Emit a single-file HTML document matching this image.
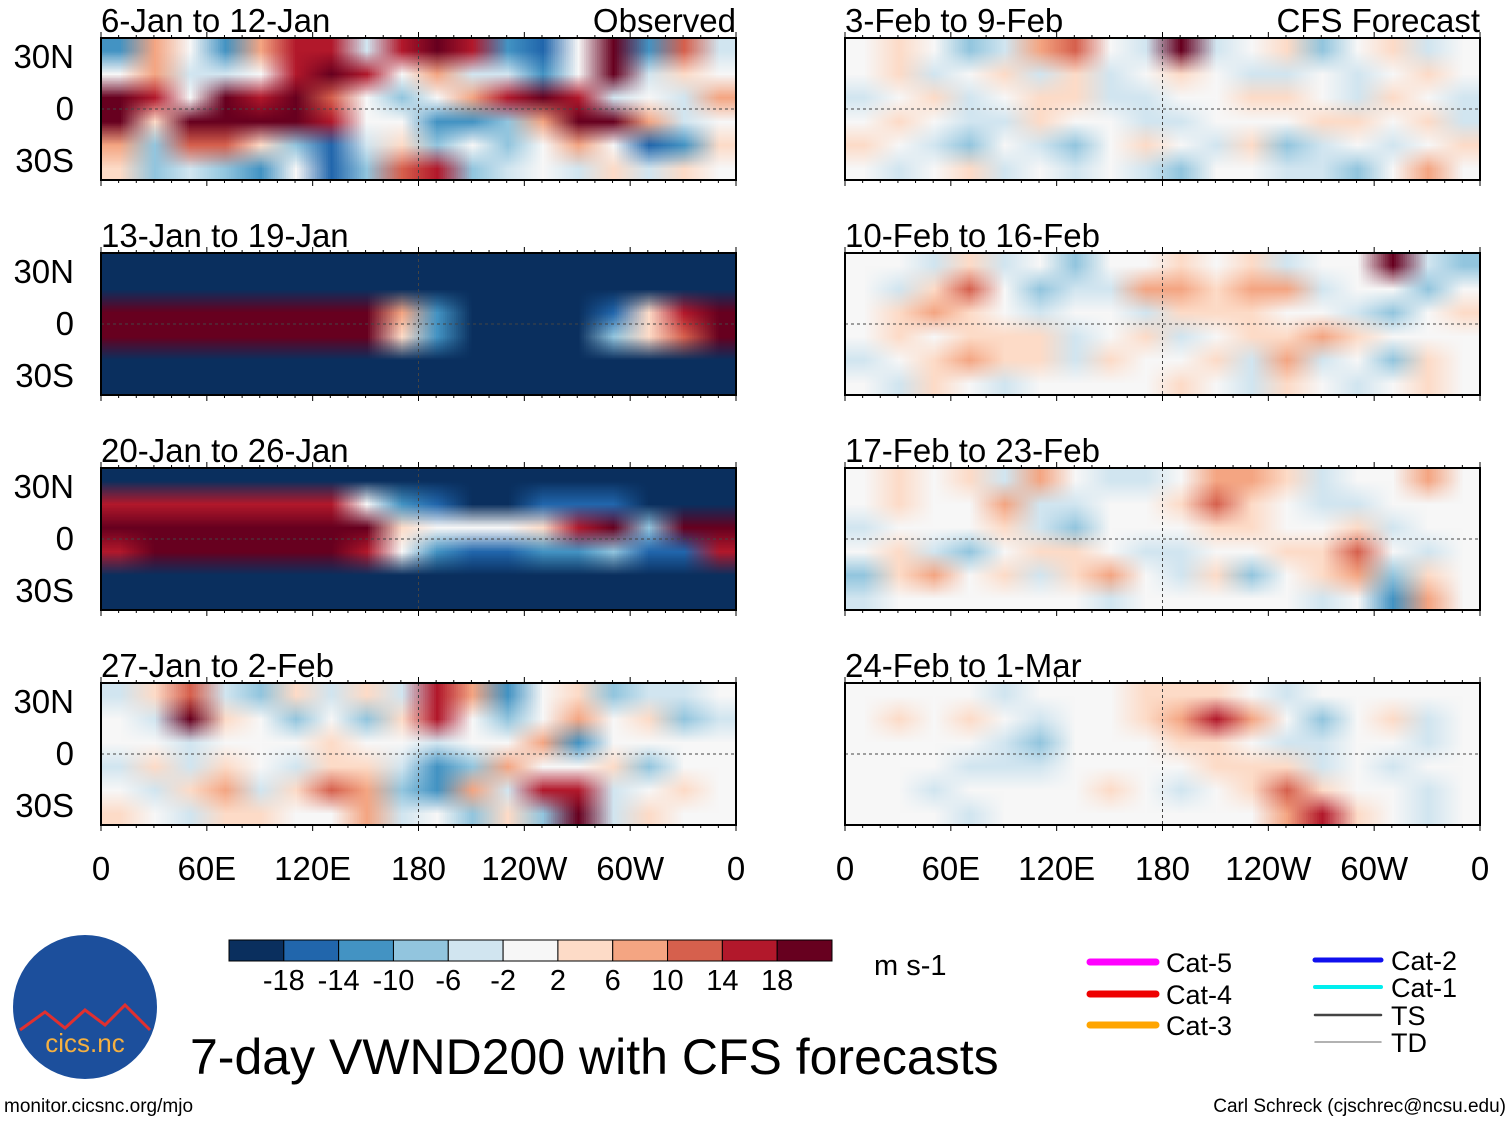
<!DOCTYPE html>
<html><head><meta charset="utf-8"><style>
body{margin:0;background:#fff;width:1510px;height:1121px;overflow:hidden;font-family:"Liberation Sans",sans-serif;position:relative}
svg text{font-family:"Liberation Sans",sans-serif}
canvas{position:absolute;image-rendering:auto}
#s{position:absolute;left:0;top:0}
</style></head><body>
<div id="maps"></div>
<svg id="s" width="1510" height="1121" viewBox="0 0 1510 1121">
<defs></defs>
</svg>
<script>
const colors=["#0a2f5e","#2166ac","#4393c3","#92c5de","#d1e5f0","#f7f7f7","#fddbc7","#f4a582","#d6604d","#b2182b","#67001f"];
const levelLabels=["-18","-14","-10","-6","-2","2","6","10","14","18"];
const xTickLabels=["0","60E","120E","180","120W","60W","0"];
const yTickLabels=["30N","0","30S"];
const panelTitles=["6-Jan to 12-Jan","13-Jan to 19-Jan","20-Jan to 26-Jan","27-Jan to 2-Feb","3-Feb to 9-Feb","10-Feb to 16-Feb","17-Feb to 23-Feb","24-Feb to 1-Mar"];
const field0=["275279949A9215A284","574459A9574425A465","A95A9A853579A94547","A6AAAA9552237AA745","738863146353575126","634325138934546465"];
const field1=["000000000000000000","000000000000000000","AAAAAAAA720000169A","AAAAAAAA620000368A","000000000000000000","000000000000000000"];
const field2=["000000000000000000","999999952100111000","AAAAAAAA655569A3AA","9AAAAAA95211223119","000000000000000000","000000000000000000"];
const field3=["468436464972563445","54A653536953575634","554555655455725555","464654664237556355","546746873274994565","6546655745363A4655"];
const field4=["565347854A45635645","564564645654454565","456456644556654654","565446554455566564","654354356546345456","545645454355443575"];
const field5=["554645355656455A43","546853447767745535","567654554666554356","565666456456676555","456766465564745365","546545555654654565"];
const field6=["565647544577645575","565574455686544555","455564355566556455","564356654455668545","367564675463567365","455555545555545275"];
const field7=["555545556665455555","565654556797535645","555543555665445545","555444555566645455","554555565456865545","555455555555796545"];
const fields=[field0,field1,field2,field3,field4,field5,field6,field7];
const S=document.getElementById('s'),NS="http://www.w3.org/2000/svg",M=document.getElementById('maps');
function el(t,a,p){const e=document.createElementNS(NS,t);for(const k in a)e.setAttribute(k,a[k]);(p||S).appendChild(e);return e;}
const PW=635,PH=142,lefts=[101,845],tops=[38,253,468,683];
const xScale=(lon,x0)=>x0+lon/360*PW;
const yScale=(lat,y0)=>y0+(41-lat)/82*PH;
function hex(c){return [1,3,5].map(i=>parseInt(c.substr(i,2),16));}
fields.forEach((f,i)=>{
 const x0=lefts[Math.floor(i/4)],y0=tops[i%4];
 const nr=f.length,nc=f[0].length;
 const cv=document.createElement('canvas');
 cv.width=nc;cv.height=nr;
 
 
 cv.style.left=xScale(0,x0)+'px';cv.style.top=yScale(41,y0)+'px';
 cv.style.width=(xScale(360,x0)-xScale(0,x0))+'px';cv.style.height=(yScale(-41,y0)-yScale(41,y0))+'px';
 const ctx=cv.getContext('2d'),img=ctx.createImageData(nc,nr);
 for(let r=0;r<nr;r++)for(let c=0;c<nc;c++){
  const rgb=hex(colors[parseInt(f[r][c],16)]),p=(r*nc+c)*4;
  img.data[p]=rgb[0];img.data[p+1]=rgb[1];img.data[p+2]=rgb[2];img.data[p+3]=255;
 }
 ctx.putImageData(img,0,0);M.appendChild(cv);
 const g=el('g',{});
 
 
 el('line',{x1:x0,x2:x0+PW,y1:yScale(0,y0),y2:yScale(0,y0),stroke:'#444','stroke-dasharray':'3,3','stroke-width':1},g);
 el('line',{x1:xScale(180,x0),x2:xScale(180,x0),y1:y0,y2:y0+PH,stroke:'#444','stroke-dasharray':'3,3','stroke-width':1},g);
 el('rect',{x:x0,y:y0,width:PW,height:PH,fill:'none',stroke:'#000','stroke-width':2},g);
 for(let k=0;k<=36;k++){const x=xScale(k*10,x0),L=k%6==0?6:3;
  el('line',{x1:x,x2:x,y1:y0,y2:y0-L,stroke:'#000'},g);el('line',{x1:x,x2:x,y1:y0+PH,y2:y0+PH+L,stroke:'#000'},g);}
 const t=el('text',{x:x0,y:y0-6,'font-size':33},g);t.textContent=panelTitles[i];
 
 if(i==0){const o=el('text',{x:x0+PW,y:y0-6,'font-size':33,'text-anchor':'end'},g);o.textContent='Observed';}
 if(i==4){const o=el('text',{x:x0+PW,y:y0-6,'font-size':33,'text-anchor':'end'},g);o.textContent='CFS Forecast';}
 if(i<4)[30,0,-30].forEach((lat,k)=>{const yt=el('text',{x:74,y:yScale(lat,y0)+11,'font-size':33,'text-anchor':'end'},g);yt.textContent=yTickLabels[k];});
});
lefts.forEach(x0=>xTickLabels.forEach((lb,k)=>{const t=el('text',{x:xScale(k*60,x0),y:880,'font-size':33,'text-anchor':'middle'});t.textContent=lb;
 }));
const cbx=229,cbw=603/11;
colors.forEach((c,k)=>{const r=el('rect',{x:cbx+k*cbw,y:940,width:cbw,height:21,fill:c,stroke:'#000','stroke-width':1});
 });
levelLabels.forEach((lb,k)=>{const t=el('text',{x:cbx+(k+1)*cbw,y:990,'font-size':29,'text-anchor':'middle'});t.textContent=lb;});
let u=el('text',{x:874,y:975,'font-size':29});u.textContent='m s-1';
const leg=[["Cat-5","#ff00ff",1090,962,7],["Cat-4","#ee0000",1090,994,7],["Cat-3","#ffa500",1090,1025,7],["Cat-2","#1010ee",1315,960,5],["Cat-1","#00eeee",1315,987,4],["TS","#444",1315,1015,2.5],["TD","#999",1315,1042,1.5]];
leg.forEach(l=>{const g=el('g',{});
 el('line',{x1:l[2],x2:l[2]+66,y1:l[3],y2:l[3],stroke:l[1],'stroke-width':l[4],'stroke-linecap':'round'},g);
 const t=el('text',{x:l[2]+76,y:l[3]+10,'font-size':27},g);t.textContent=l[0];});
const lg=el('g',{});
el('circle',{cx:85,cy:1007,r:72,fill:'#1c4f9c'},lg);
el('path',{d:'M20,1030 L45,1012 L65,1028 L85,1010 L105,1025 L125,1005 L150,1030',stroke:'#e03030','stroke-width':3,fill:'none'},lg);
let lt=el('text',{x:85,y:1052,'font-size':26,'text-anchor':'middle',fill:'#f5b040'},lg);lt.textContent='cics.nc';
let ti=el('text',{x:190,y:1074,'font-size':50});ti.textContent='7-day VWND200 with CFS forecasts';

let f1=el('text',{x:4,y:1112,'font-size':19});f1.textContent='monitor.cicsnc.org/mjo';
let f2=el('text',{x:1506,y:1112,'font-size':19,'text-anchor':'end'});f2.textContent='Carl Schreck (cjschrec@ncsu.edu)';
</script>
</body></html>
